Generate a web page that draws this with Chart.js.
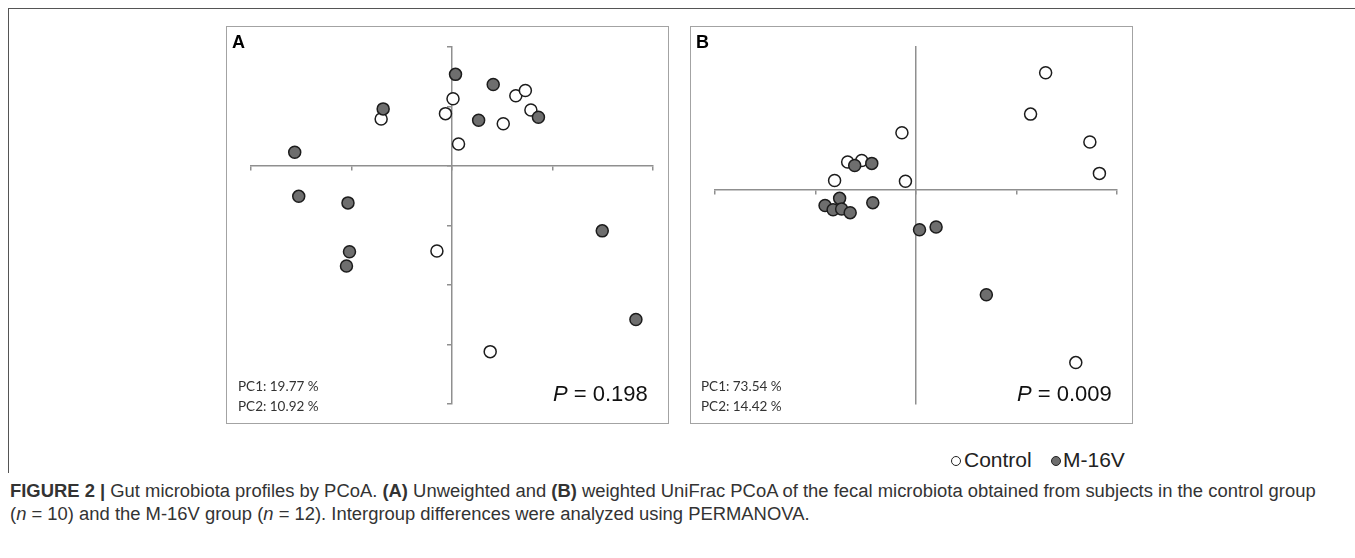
<!DOCTYPE html>
<html>
<head>
<meta charset="utf-8">
<script src="https://cdn.jsdelivr.net/npm/chart.js@4/dist/chart.umd.min.js"></script>
<style>
  body { margin: 0; width: 1355px; height: 558px; background: #fff; position: relative; overflow: hidden;
         font-family: "Liberation Sans", Arial, sans-serif; color: #222; }
  #frame { position: absolute; left: 8px; top: 8px; width: 1347px; height: 464px;
           border-left: 1.5px solid #555; border-top: 1.5px solid #555; }
  .panel { position: absolute; top: 26px; width: 443px; height: 398px; box-sizing: border-box;
           border: 1.5px solid #a3a3a3; }
  canvas { position: absolute; top: 27px; }
  .txt { position: absolute; white-space: nowrap; line-height: 1; }
  .tag { font-weight: bold; font-size: 18px; color: #000; }
  .pc { font-family: Lato, "Open Sans", sans-serif; font-size: 13.5px; color: #333; }
  .pval { font-size: 22px; color: #111; }
  .legend { font-size: 21px; color: #222; }
  .dot { position: absolute; width: 10px; height: 10px; border-radius: 50%; border: 1.5px solid #222; box-sizing: border-box; }
  .caption { position: absolute; left: 10px; font-family: "Liberation Sans", Arial, sans-serif;
             font-size: 18px; color: #333; white-space: nowrap; line-height: 1; transform-origin: 0 0; }
</style>
</head>
<body>
<div id="frame"></div>
<div class="panel" style="left:226px"></div>
<div class="panel" style="left:690px"></div>
<canvas id="chartA" width="441" height="396" style="left:227px"></canvas>
<canvas id="chartB" width="441" height="396" style="left:691px"></canvas>

<div class="txt tag" style="left:232px;top:33px">A</div>
<div class="txt tag" style="left:696px;top:33px">B</div>
<div class="txt pc" style="left:238px;top:380px">PC1: 19.77 %</div>
<div class="txt pc" style="left:238px;top:400px">PC2: 10.92 %</div>
<div class="txt pc" style="left:701px;top:380px">PC1: 73.54 %</div>
<div class="txt pc" style="left:701px;top:400px">PC2: 14.42 %</div>
<div class="txt pval" style="left:553px;top:383px"><i>P</i> = 0.198</div>
<div class="txt pval" style="left:1017px;top:383px"><i>P</i> = 0.009</div>

<div class="dot" style="left:951px;top:456px;background:#fff"></div>
<div class="txt legend" style="left:964px;top:449px">Control</div>
<div class="dot" style="left:1051px;top:456px;background:#6e6e6e"></div>
<div class="txt legend" style="left:1063px;top:449px">M-16V</div>

<div class="caption" id="cap1" style="top:482px"><b>FIGURE 2 |</b> Gut microbiota profiles by PCoA. <b>(A)</b> Unweighted and <b>(B)</b> weighted UniFrac PCoA of the fecal microbiota obtained from subjects in the control group</div>
<div class="caption" id="cap2" style="top:505px">(<i>n</i> = 10) and the M-16V group (<i>n</i> = 12). Intergroup differences were analyzed using PERMANOVA.</div>

<script>
// panel A: unweighted UniFrac (PC1, PC2)
const controlA_x = [0.002, -0.013, -0.141, 0.127, 0.146, 0.157, 0.102, 0.013, -0.030, 0.076];
const controlA_y = [0.113, 0.088, 0.079, 0.118, 0.127, 0.094, 0.071, 0.037, -0.143, -0.312];
const m16vA_x = [0.007, 0.082, -0.137, 0.053, 0.172, -0.313, -0.305, -0.207, -0.204, -0.210, 0.299, 0.366];
const m16vA_y = [0.154, 0.137, 0.096, 0.077, 0.082, 0.023, -0.051, -0.062, -0.144, -0.168, -0.109, -0.258];

// panel B: weighted UniFrac
const controlB_x = [0.258, 0.228, 0.346, 0.365, -0.028, -0.136, -0.108, -0.162, -0.021, 0.318];
const controlB_y = [0.164, 0.106, 0.067, 0.023, 0.080, 0.039, 0.041, 0.013, 0.012, -0.242];
const m16vB_x = [-0.122, -0.088, -0.152, -0.181, -0.165, -0.148, -0.131, -0.086, 0.007, 0.040, 0.140];
const m16vB_y = [0.034, 0.037, -0.012, -0.022, -0.028, -0.027, -0.032, -0.018, -0.056, -0.052, -0.147];

const AXIS_COLOR = "#8f8f8f";

function toPoints(xs, ys) {
  return xs.map((x, i) => ({ x: x, y: ys[i] }));
}

function makeScatter(id, cx, cy, mx, my, xRange, yRange, yTicks) {
  new Chart(document.getElementById(id), {
    type: "scatter",
    data: {
      datasets: [
        {
          label: "Control",
          data: toPoints(cx, cy),
          backgroundColor: "#ffffff",
          borderColor: "#1c1c1c",
          borderWidth: 1.5,
          pointRadius: 6,
          order: 1,
        },
        {
          label: "M-16V",
          data: toPoints(mx, my),
          backgroundColor: "#6e6e6e",
          borderColor: "#1c1c1c",
          borderWidth: 1.5,
          pointRadius: 6,
          order: 0,
        },
      ],
    },
    options: {
      responsive: false,
      animation: false,
      devicePixelRatio: 1,
      layout: { autoPadding: false, padding: { left: 24, right: 15, top: 20, bottom: 19 } },
      scales: {
        x: {
          type: "linear",
          position: { y: 0 },
          min: xRange[0],
          max: xRange[1],
          ticks: { display: false, stepSize: 0.2 },
          grid: { drawOnChartArea: false, drawTicks: true, tickLength: 4, color: AXIS_COLOR, lineWidth: 1.5 },
          border: { color: AXIS_COLOR, width: 1.5 },
        },
        y: {
          type: "linear",
          position: { x: 0 },
          min: yRange[0],
          max: yRange[1],
          ticks: { display: false, stepSize: 0.1 },
          grid: { drawOnChartArea: false, drawTicks: yTicks, tickLength: 4, color: AXIS_COLOR, lineWidth: 1.5 },
          border: { color: AXIS_COLOR, width: 1.5 },
        },
      },
      plugins: {
        legend: { display: false },
        tooltip: { enabled: false },
      },
    },
  });
}

makeScatter("chartA", controlA_x, controlA_y, m16vA_x, m16vA_y, [-0.4, 0.4], [-0.4, 0.2], true);
makeScatter("chartB", controlB_x, controlB_y, m16vB_x, m16vB_y, [-0.4, 0.4], [-0.3, 0.2], false);

// squeeze caption to the condensed width of the original (line 1 runs to x = 1316)
const cap1 = document.getElementById("cap1");
const cap2 = document.getElementById("cap2");
const sx = 1306 / cap1.offsetWidth;
cap1.style.transform = "scaleX(" + sx + ")";
cap2.style.transform = "scaleX(" + sx + ")";
</script>
</body>
</html>
